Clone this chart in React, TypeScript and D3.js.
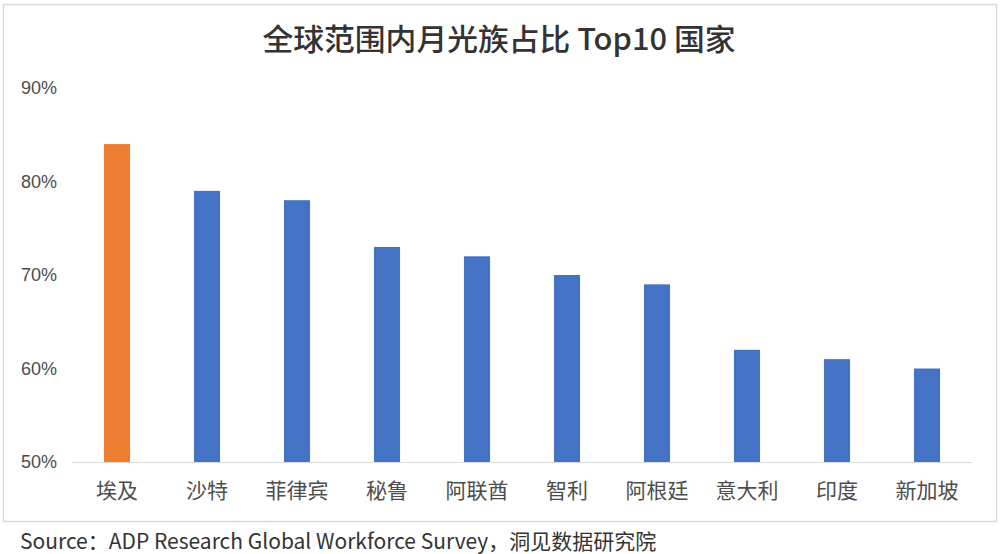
import React from "react";
import * as d3 from "d3";

const categories = ["埃及", "沙特", "菲律宾", "秘鲁", "阿联酋", "智利", "阿根廷", "意大利", "印度", "新加坡"];
const values = [84, 79, 78, 73, 72, 70, 69, 62, 61, 60];
const highlight = ["埃及"];
const yTicks = [50, 60, 70, 80, 90];
const title = "全球范围内月光族占比 Top10 国家";
const source = "Source：ADP Research Global Workforce Survey，洞见数据研究院";

const W = 1000;
const H = 554;
const plot = { left: 72, right: 972, top: 88, bottom: 462 };
const FONT = "'Liberation Sans', 'Noto Sans CJK SC', Arial, sans-serif";
const CJK = "'Noto Sans CJK SC', 'Liberation Sans', sans-serif";

export default function App() {
  const x = d3
    .scaleBand<string>()
    .domain(categories)
    .range([plot.left, plot.right])
    .paddingInner(0.71)
    .paddingOuter(0.355);
  const y = d3.scaleLinear().domain([50, 90]).range([plot.bottom, plot.top]);

  return (
    <svg
      width={W}
      height={H}
      style={{ position: "absolute", left: 0, top: 0, background: "#fff" }}
    >
      <rect x={0} y={0} width={W} height={H} fill="#fff" />
      <rect x={3.5} y={4.5} width={993} height={517} fill="none" stroke="#d9d9d9" strokeWidth={1.5} />
      <text
        x={499}
        y={50}
        textAnchor="middle"
        fontFamily={CJK}
        fontSize={30}
        fontWeight={500}
        fill="#333"
        textLength={473}
        lengthAdjust="spacingAndGlyphs"
      >
        {title}
      </text>
      {yTicks.map((t) => (
        <text
          key={t}
          x={57}
          y={y(t)}
          dy="0.35em"
          textAnchor="end"
          fontFamily={FONT}
          fontSize={18}
          fill="#4d4d4d"
        >
          {t}%
        </text>
      ))}
      {categories.map((c, i) => (
        <rect
          key={c}
          x={x(c)}
          y={y(values[i])}
          width={x.bandwidth()}
          height={y(50) - y(values[i])}
          fill={highlight.includes(c) ? "#ED7D31" : "#4472C4"}
        />
      ))}
      <line
        x1={plot.left}
        x2={plot.right}
        y1={y(50) + 0.5}
        y2={y(50) + 0.5}
        stroke="#d9d9d9"
        strokeWidth={1}
      />
      {categories.map((c) => (
        <text
          key={c}
          x={(x(c) as number) + x.bandwidth() / 2}
          y={498}
          textAnchor="middle"
          fontFamily={CJK}
          fontSize={21}
          fill="#4d4d4d"
        >
          {c}
        </text>
      ))}
      <text x={20} y={549} fontFamily={CJK} fontSize={21} fill="#333">
        {source}
      </text>
    </svg>
  );
}
